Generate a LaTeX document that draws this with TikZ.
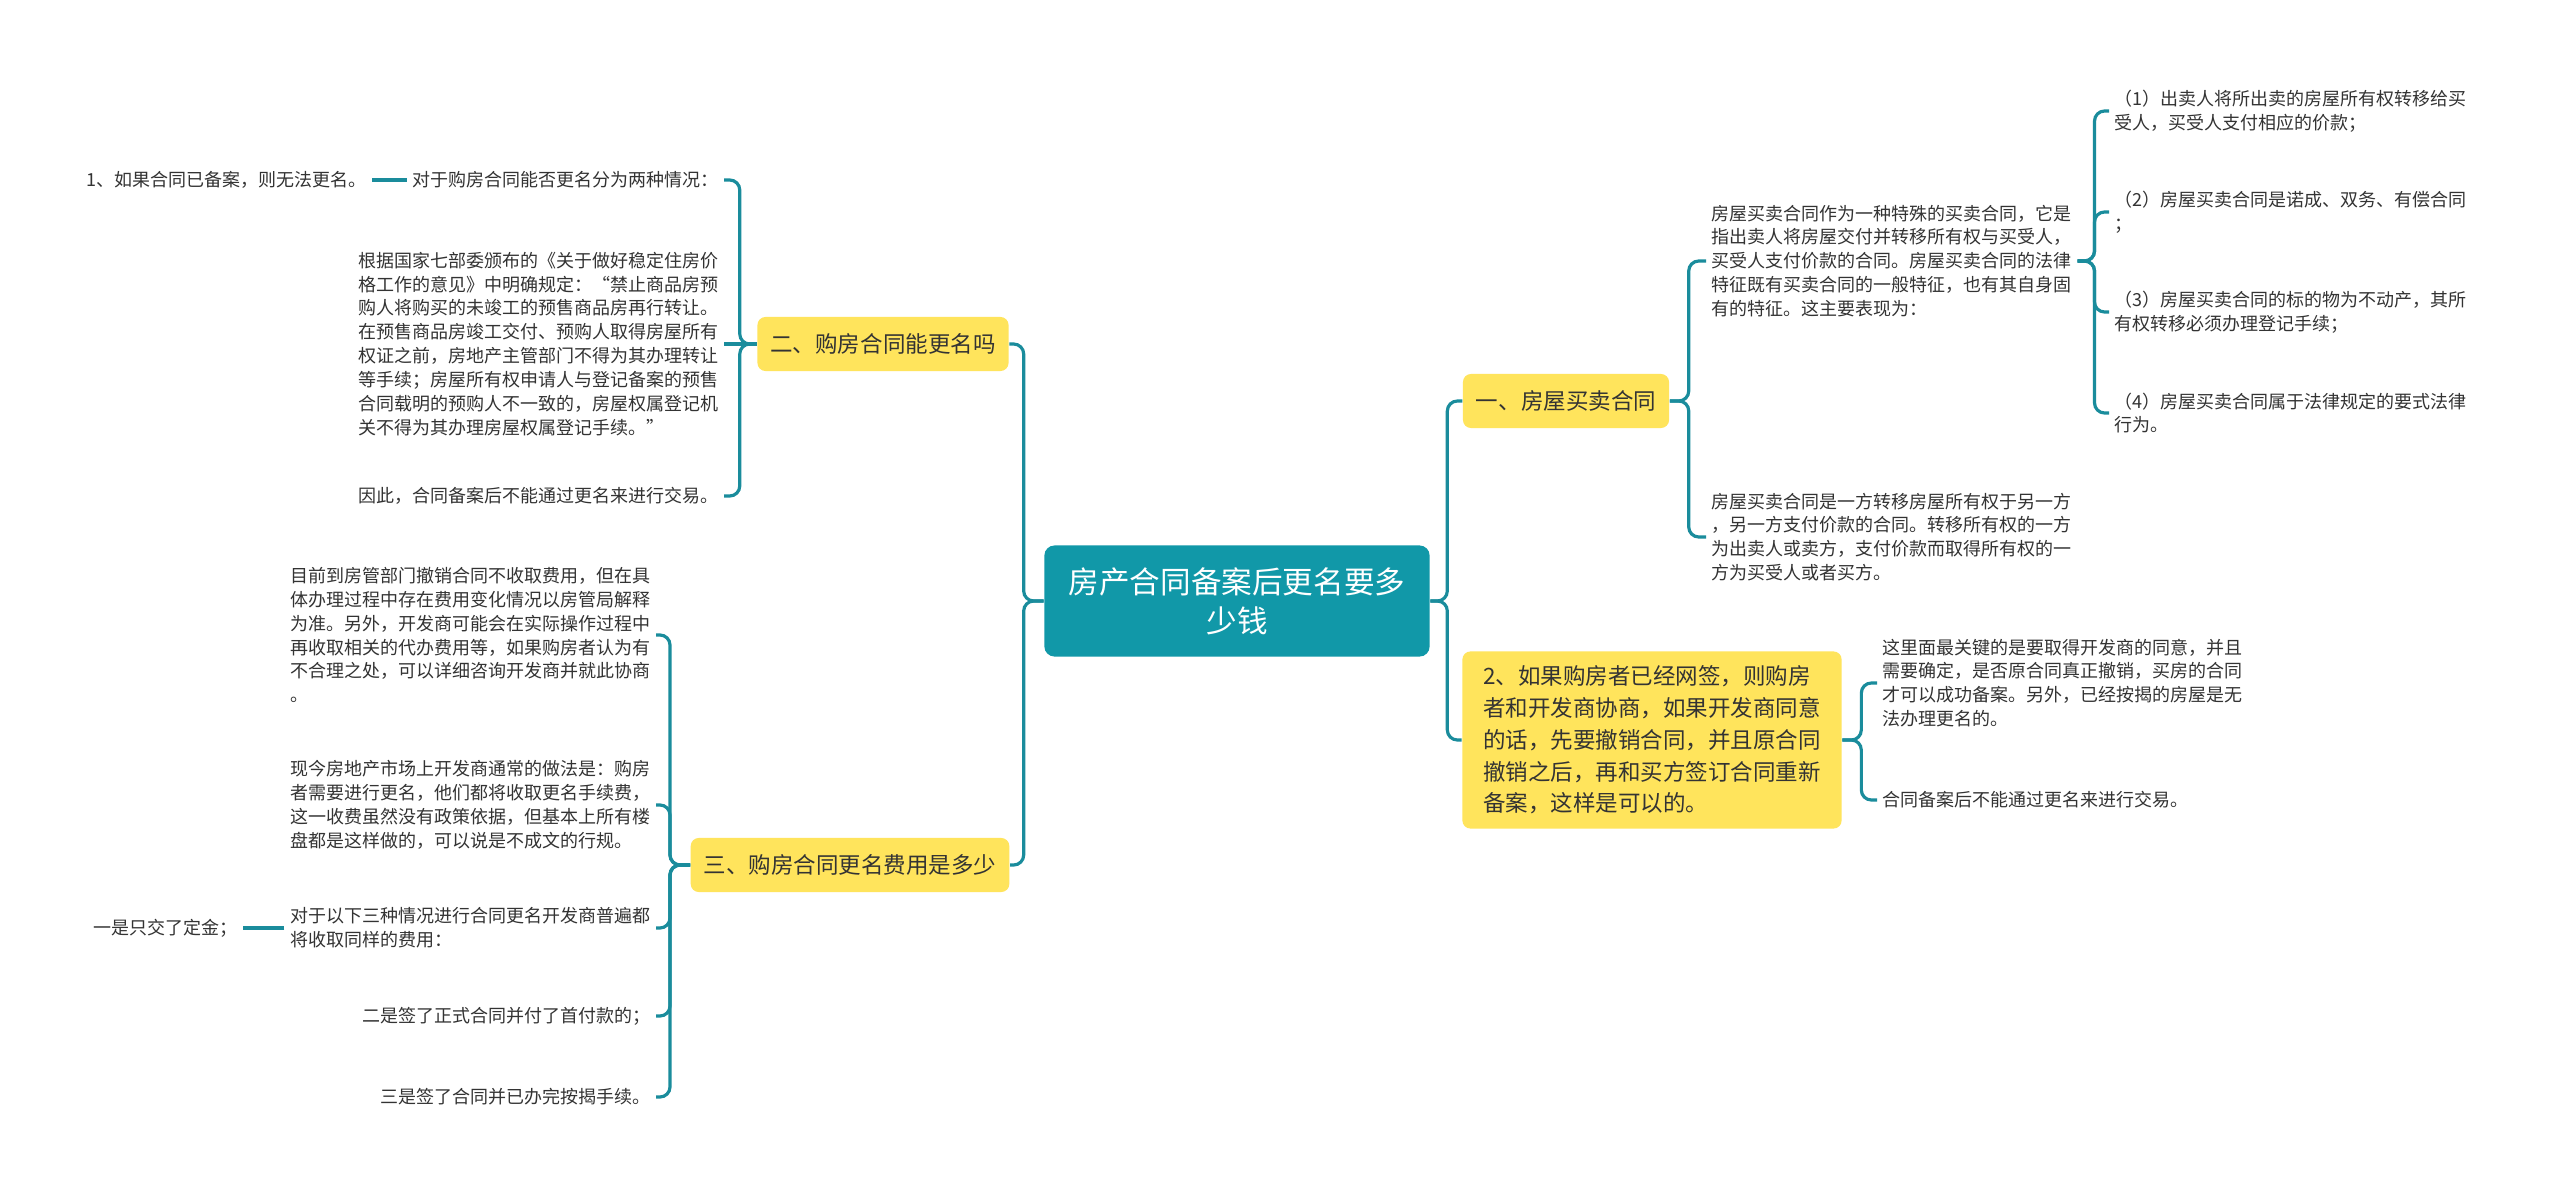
\documentclass[tikz,border=0pt]{standalone}
\usepackage{fontspec}
\setmainfont{Noto Sans CJK SC}
\definecolor{rootc}{RGB}{17,152,168}
\definecolor{linec}{RGB}{26,140,156}
\definecolor{yel}{RGB}{255,228,92}
\definecolor{txt}{RGB}{51,51,51}
\tikzset{
  rootbox/.style={fill=rootc, rounded corners=0.1cm, text=white, font=\fontsize{8.7pt}{11.1pt}\selectfont, align=center, minimum width=3.85cm, minimum height=1.11cm, inner sep=0pt},
  mainbox/.style={fill=yel, rounded corners=0.08cm, text=txt, font=\fontsize{6.4pt}{9.05pt}\selectfont, inner xsep=0.13cm, inner ysep=0.04cm, minimum height=0.54cm, align=left},
  leaf/.style={text=txt, font=\fontsize{5.12pt}{6.8pt}\selectfont, inner xsep=0.05cm, inner ysep=0.02cm, align=left},
  conn/.style={draw=linec, line width=0.9pt, rounded corners=0.1cm},
}
\begin{document}
\begin{tikzpicture}[x=0.01cm, y=-0.01cm]
\fill[white] (0,0) rectangle (2560,1194);
\useasboundingbox (0,0) rectangle (2560,1194);

% root and main topics
\node[rootbox] (c) at (1237,601) {房产合同备案后更名要多\\少钱};
\node[mainbox] (n1) at (1566,401) {一、房屋买卖合同};
\node[mainbox, minimum width=3.79cm, minimum height=1.77cm] (n2) at (1652,740) {2、如果购房者已经网签，则购房\\者和开发商协商，如果开发商同意\\的话，先要撤销合同，并且原合同\\撤销之后，再和买方签订合同重新\\备案，这样是可以的。};
\node[mainbox] (n3) at (883,344) {二、购房合同能更名吗};
\node[mainbox] (n4) at (850,865) {三、购房合同更名费用是多少};

% right side leaves
\node[leaf, anchor=west] (a1) at (1706,261) {房屋买卖合同作为一种特殊的买卖合同，它是\\指出卖人将房屋交付并转移所有权与买受人，\\买受人支付价款的合同。房屋买卖合同的法律\\特征既有买卖合同的一般特征，也有其自身固\\有的特征。这主要表现为：};
\node[leaf, anchor=west] (a2) at (1706,537) {房屋买卖合同是一方转移房屋所有权于另一方\\，另一方支付价款的合同。转移所有权的一方\\为出卖人或卖方，支付价款而取得所有权的一\\方为买受人或者买方。};
\node[leaf, anchor=west] (b1) at (2109,111) {（1）出卖人将所出卖的房屋所有权转移给买\\受人，买受人支付相应的价款；};
\node[leaf, anchor=west] (b2) at (2109,212) {（2）房屋买卖合同是诺成、双务、有偿合同\\；};
\node[leaf, anchor=west] (b3) at (2109,312) {（3）房屋买卖合同的标的物为不动产，其所\\有权转移必须办理登记手续；};
\node[leaf, anchor=west] (b4) at (2109,413) {（4）房屋买卖合同属于法律规定的要式法律\\行为。};
\node[leaf, anchor=west] (c1) at (1877,683) {这里面最关键的是要取得开发商的同意，并且\\需要确定，是否原合同真正撤销，买房的合同\\才可以成功备案。另外，已经按揭的房屋是无\\法办理更名的。};
\node[leaf, anchor=west] (c2) at (1877,800) {合同备案后不能通过更名来进行交易。};

% left side leaves
\node[leaf, anchor=east] (d1) at (724,180) {对于购房合同能否更名分为两种情况：};
\node[leaf, anchor=east] (d0) at (372,180) {1、如果合同已备案，则无法更名。};
\node[leaf, anchor=east] (d2) at (724,344) {根据国家七部委颁布的《关于做好稳定住房价\\格工作的意见》中明确规定：“禁止商品房预\\购人将购买的未竣工的预售商品房再行转让。\\在预售商品房竣工交付、预购人取得房屋所有\\权证之前，房地产主管部门不得为其办理转让\\等手续；房屋所有权申请人与登记备案的预售\\合同载明的预购人不一致的，房屋权属登记机\\关不得为其办理房屋权属登记手续。”};
\node[leaf, anchor=east] (d3) at (724,496) {因此，合同备案后不能通过更名来进行交易。};

\node[leaf, anchor=east] (e1) at (656,635) {目前到房管部门撤销合同不收取费用，但在具\\体办理过程中存在费用变化情况以房管局解释\\为准。另外，开发商可能会在实际操作过程中\\再收取相关的代办费用等，如果购房者认为有\\不合理之处，可以详细咨询开发商并就此协商\\。};
\node[leaf, anchor=east] (e2) at (656,805) {现今房地产市场上开发商通常的做法是：购房\\者需要进行更名，他们都将收取更名手续费，\\这一收费虽然没有政策依据，但基本上所有楼\\盘都是这样做的，可以说是不成文的行规。};
\node[leaf, anchor=east] (e3) at (656,928) {对于以下三种情况进行合同更名开发商普遍都\\将收取同样的费用：};
\node[leaf, anchor=east] (e0) at (243,928) {一是只交了定金；};
\node[leaf, anchor=east] (e4) at (656,1016) {二是签了正式合同并付了首付款的；};
\node[leaf, anchor=east] (e5) at (656,1097) {三是签了合同并已办完按揭手续。};

% connectors right
\draw[conn] (c.east) -- ++(17,0) |- (n1.west);
\draw[conn] (c.east) -- ++(17,0) |- (n2.west);
\draw[conn] (n1.east) -- ++(19,0) |- (a1.west);
\draw[conn] (n1.east) -- ++(19,0) |- (a2.west);
\draw[conn] (a1.east) -- ++(17,0) |- (b1.west);
\draw[conn] (a1.east) -- ++(17,0) |- (b2.west);
\draw[conn] (a1.east) -- ++(17,0) |- (b3.west);
\draw[conn] (a1.east) -- ++(17,0) |- (b4.west);
\draw[conn] (n2.east) -- ++(19,0) |- (c1.west);
\draw[conn] (n2.east) -- ++(19,0) |- (c2.west);

% connectors left
\draw[conn] (c.west) -- ++(-20,0) |- (n3.east);
\draw[conn] (c.west) -- ++(-20,0) |- (n4.east);
\draw[conn] (n3.west) -- ++(-17,0) |- (d1.east);
\draw[conn] (n3.west) -- (d2.east);
\draw[conn] (n3.west) -- ++(-17,0) |- (d3.east);
\draw[conn] (d1.west) -- (d0.east);
\draw[conn] (n4.west) -- ++(-20,0) |- (e1.east);
\draw[conn] (n4.west) -- ++(-20,0) |- (e2.east);
\draw[conn] (n4.west) -- ++(-20,0) |- (e3.east);
\draw[conn] (n4.west) -- ++(-20,0) |- (e4.east);
\draw[conn] (n4.west) -- ++(-20,0) |- (e5.east);
\draw[conn] (e3.west) -- (e0.east);
\end{tikzpicture}
\end{document}
